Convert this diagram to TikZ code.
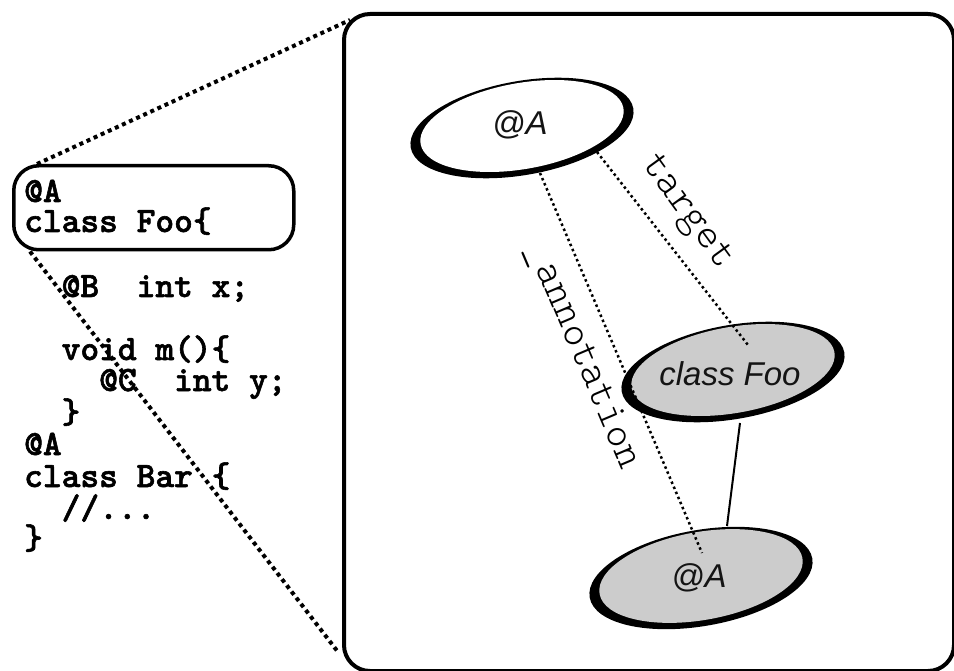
\documentclass[tikz,border=0pt]{standalone}
\usepackage{fontspec}
\newfontfamily\hel{Liberation Sans}
\newfontfamily\codefont{lmmonolt10-bold.otf}[FakeBold=1.6]
\newfontfamily\lblfont{lmmonolt10-regular.otf}
\usetikzlibrary{shapes.geometric,calc}
\begin{document}
\begin{tikzpicture}[x=1pt,y=-1pt,
  shadowell/.style={ellipse, fill=black, draw=none, inner sep=0pt, minimum width=226pt, minimum height=94pt, rotate=10},
  faceell/.style={ellipse, draw=none, inner sep=0pt, minimum width=206pt, minimum height=86pt, rotate=10},
  eltext/.style={font=\hel\itshape\fontsize{33}{40}\selectfont, text=black!92, inner sep=0pt},
  codeline/.style={anchor=base west, inner sep=0pt, font=\codefont\fontsize{35.7}{40}\selectfont},
  lbl/.style={font=\lblfont\fontsize{42}{46}\selectfont, inner sep=0pt},
  zoomline/.style={line width=4pt, dash pattern=on 4pt off 3.8pt},
  dotline/.style={line width=2.5pt, dash pattern=on 2.5pt off 3pt},
  framebox/.style={draw, line width=4pt, rounded corners=26pt, inner sep=0pt, anchor=north west},
  codebox/.style={draw, line width=3.5pt, rounded corners=25pt, inner sep=0pt, anchor=north west},
]
\useasboundingbox (0,0) rectangle (954,671);

% frames
\node[framebox, minimum width=610pt, minimum height=657pt] (view) at (342,12) {};
\node[codebox, minimum width=280pt, minimum height=84pt] (cbox) at (12,164) {};

% code
\node[codeline] (c1) at (24,202) {@A};
\node[codeline] (c2) at (24,232) {class~Foo\{};
\node[codeline] (c3) at (24,297) {~~@B~~int~x;};
\node[codeline] (c4) at (24,360) {~~void~m()\{};
\node[codeline] (c5) at (24,391) {~~~~@C~~int~y;};
\node[codeline] (c6) at (24,423) {~~\}};
\node[codeline] (c7) at (24,455) {@A};
\node[codeline] (c8) at (24,487) {class~Bar~\{};
\node[codeline] (c9) at (24,519) {~~//...};
\node[codeline] (c10) at (24,549) {\}};

% zoom lines
\coordinate (z1) at ($(cbox.north west)+(25,0)$);
\coordinate (z2) at ($(view.north west)+(8,8)$);
\coordinate (z3) at ($(cbox.south west)+(18,0)$);
\coordinate (z4) at ($(view.south west)+(-4,-21)$);
\draw[zoomline] (z1) -- (z2);
\draw[zoomline] (z3) -- (z4);

% ellipses
\node[shadowell] (topA) at (522,128) {};
\node[faceell, fill=white] (topAf) at ($(topA)+(0,-2)$) {};
\node[eltext] (topAt) at (520,125) {@A};

\node[shadowell] (foo) at (733,372) {};
\node[faceell, fill=black!20] (foof) at ($(foo)+(0,-2)$) {};
\node[eltext] (foot) at (730,374) {class Foo};

\node[shadowell, minimum height=96pt] (botA) at (701,578) {};
\node[faceell, fill=black!20, minimum height=88pt] (botAf) at ($(botA)+(0,-2)$) {};
\node[eltext] (botAt) at (699,578) {@A};

% connectors
\coordinate (a1) at ($(topA)+(18,45)$);
\coordinate (a2) at ($(botA)+(1,-25)$);
\draw[dotline] (a1) -- (a2);
\coordinate (t1) at ($(topA)+(75,24)$);
\coordinate (t2) at ($(foo)+(15,-27)$);
\draw[dotline] (t1) -- (t2);
\coordinate (s1) at ($(foo)+(7,51)$);
\coordinate (s2) at ($(botA)+(26,-52)$);
\draw[line width=2pt] (s1) -- (s2);

% labels
\node[lbl, rotate=-54] (tl) at (686,213) {target};
\node[lbl, rotate=-67] (al) at (583,356) {\_annotation};
\end{tikzpicture}
\end{document}
